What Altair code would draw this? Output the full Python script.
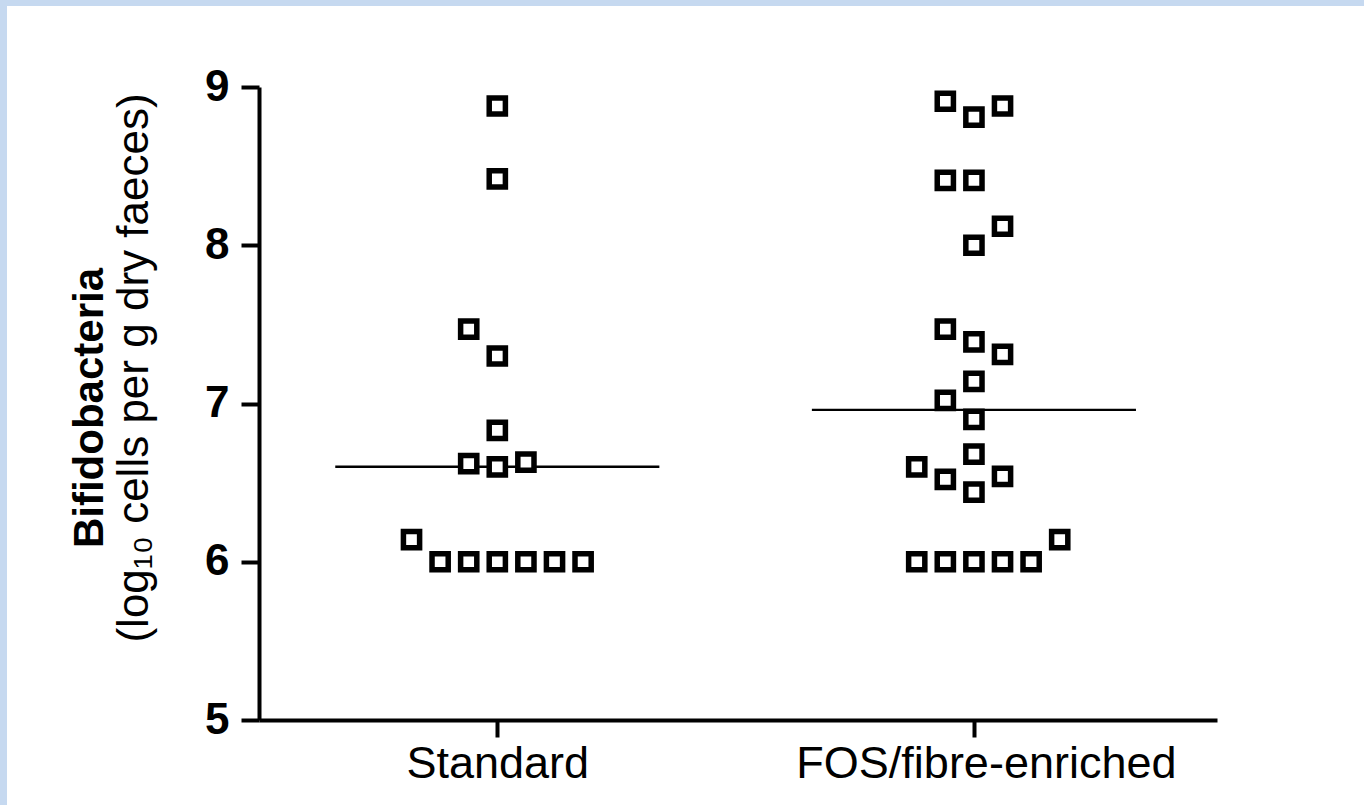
import altair as alt
import pandas as pd

# Diet groups (x categories)
groups = ["Standard", "FOS/fibre-enriched"]

# Bifidobacteria counts, log10 cells per g dry faeces
standard_values = [8.88, 8.42, 7.47, 7.30, 6.83, 6.62, 6.60, 6.63, 6.14,
                   6.00, 6.00, 6.00, 6.00, 6.00, 6.00]
# dot-plot column of each point within its group (0 = centre column)
standard_cols = [0, 0, -1, 0, 0, -1, 0, 1, -3, -2, -1, 0, 1, 2, 3]

fos_values = [8.91, 8.81, 8.88, 8.41, 8.41, 8.00, 8.12, 7.47, 7.39, 7.31,
              7.14, 7.02, 6.90, 6.68, 6.60, 6.52, 6.44, 6.54,
              6.00, 6.00, 6.00, 6.00, 6.00, 6.14]
fos_cols = [-1, 0, 1, -1, 0, 0, 1, -1, 0, 1,
            0, -1, 0, 0, -2, -1, 0, 1,
            -2, -1, 0, 1, 2, 3]

y_ticks = [5, 6, 7, 8, 9]

FONT = "Liberation Sans"
COL_STEP = 0.06      # spacing between dot columns, in x units
HALF_LINE = 0.34     # half length of the median bar, in x units

rows = []
for gi, (vals, cols) in enumerate([(standard_values, standard_cols),
                                   (fos_values, fos_cols)], start=1):
    for v, c in zip(vals, cols):
        rows.append({"g": gi, "group": groups[gi - 1], "col": c, "value": v})
df = pd.DataFrame(rows)

W, H = 958, 633
LEFT, TOP = 259, 87

x_scale = alt.Scale(domain=[0.5, 2.51], nice=False, zero=False)
y_scale = alt.Scale(domain=[5, 9], nice=False, zero=False)

label_expr = " : ".join(
    f"datum.value == {i + 1} ? '{g}'" for i, g in enumerate(groups)
) + " : ''"

base = alt.Chart(df)

# white panel over the light-blue page
panel = alt.Chart(pd.DataFrame({"k": [0]})).mark_rect(color="white").encode(
    x=alt.value(7 - LEFT), x2=alt.value(1364 - LEFT),
    y=alt.value(6 - TOP), y2=alt.value(805 - TOP),
)

medians = base.transform_aggregate(
    med="median(value)", groupby=["g"]
).transform_calculate(
    lo=f"datum.g - {HALF_LINE}", hi=f"datum.g + {HALF_LINE}"
).mark_rule(color="black", strokeWidth=2.4).encode(
    x=alt.X("lo:Q", scale=x_scale),
    x2="hi:Q",
    y=alt.Y("med:Q", scale=y_scale),
)

points = base.transform_calculate(
    xpos=f"datum.g + datum.col * {COL_STEP}"
).mark_point(
    shape="square", filled=True, fill="white", stroke="black",
    strokeWidth=5.5, size=262, opacity=1,
).encode(
    x=alt.X("xpos:Q", scale=x_scale,
            axis=alt.Axis(values=[1, 2], labelExpr=label_expr, title=None,
                          grid=False, domainWidth=4, domainColor="black",
                          tickWidth=4, tickSize=17, tickColor="black",
                          labelFont=FONT, labelFontSize=45, labelColor="black",
                          labelPadding=4, labelBaseline="top", labelLimit=0,
                          labelOffset={"condition": {"test": "datum.value == 2", "value": 12},
                                       "value": 0},
                          zindex=2)),
    y=alt.Y("value:Q", scale=y_scale,
            axis=alt.Axis(values=y_ticks, format="d", title=None, grid=False,
                          domainWidth=4, domainColor="black",
                          tickWidth=4, tickSize=18, tickColor="black",
                          labelFont=FONT, labelFontSize=44, labelFontWeight="bold",
                          labelColor="black", labelPadding=12, zindex=2)),
)

title1 = alt.Chart(pd.DataFrame({"t": ["Bifidobacteria"]})).mark_text(
    angle=270, font=FONT, fontSize=42, fontWeight="bold", color="black",
    align="center", baseline="alphabetic",
).encode(text="t:N", x=alt.value(103 - LEFT), y=alt.value(408 - TOP))

title2 = alt.Chart(pd.DataFrame({"t": ["(log\u2081\u2080 cells per g dry  faeces)"]})).mark_text(
    angle=270, font=FONT, fontSize=44, color="black",
    align="center", baseline="alphabetic",
).encode(text="t:N", x=alt.value(148 - LEFT), y=alt.value(368 - TOP))

chart = alt.layer(panel, medians, points, title1, title2).properties(
    width=W, height=H,
    background="#c6d9f0",
    padding={"left": LEFT, "top": TOP, "right": 1364 - LEFT - W, "bottom": 805 - TOP - H},
    autosize=alt.AutoSizeParams(type="none"),
).configure_view(strokeWidth=0)

chart.save("out.html", embed_options={"renderer": "svg", "actions": False})
